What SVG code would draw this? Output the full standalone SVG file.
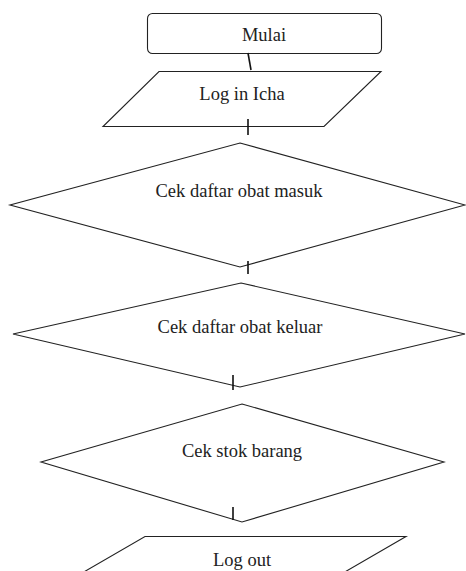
<svg xmlns="http://www.w3.org/2000/svg" width="466" height="571" viewBox="0 0 466 571">
<style>
.s{fill:#fff;stroke:#222;stroke-width:1.1}
.t{font-family:"Liberation Serif","Times New Roman",serif;font-size:18.5px;fill:#222;text-anchor:middle}
.c{stroke:#111;stroke-width:1.6;fill:none}
</style>
<rect width="466" height="571" fill="#fff"/>
<g id="mulai">
<rect class="s" x="147.5" y="13.5" width="234" height="40" rx="5"/>
<text class="t" x="264" y="41">Mulai</text>
</g>
<g id="login">
<polygon class="s" points="159,71.5 381,71.5 324,126.5 103,126.5"/>
<text class="t" x="242" y="100">Log in Icha</text>
</g>
<g id="cek-masuk">
<polygon class="s" points="240,143 465,205 240,267 10,205"/>
<text class="t" x="239" y="197">Cek daftar obat masuk</text>
</g>
<g id="cek-keluar">
<polygon class="s" points="241,283 465,334 240,387 13,334"/>
<text class="t" x="240" y="333">Cek daftar obat keluar</text>
</g>
<g id="cek-stok">
<polygon class="s" points="242,404 444,462 242,522 41,462"/>
<text class="t" x="242" y="457">Cek stok barang</text>
</g>
<g id="logout">
<polygon class="s" points="145,536.5 406,536.5 312,591 51,591"/>
<text class="t" x="242" y="566">Log out</text>
</g>
<g id="connectors">
<line class="c" x1="248" y1="53" x2="251" y2="70"/>
<line class="c" x1="248" y1="119" x2="248" y2="135"/>
<line class="c" x1="248" y1="261" x2="248" y2="274"/>
<line class="c" x1="233" y1="375" x2="233" y2="390"/>
<line class="c" x1="233" y1="507" x2="233" y2="520"/>
</g>
</svg>
